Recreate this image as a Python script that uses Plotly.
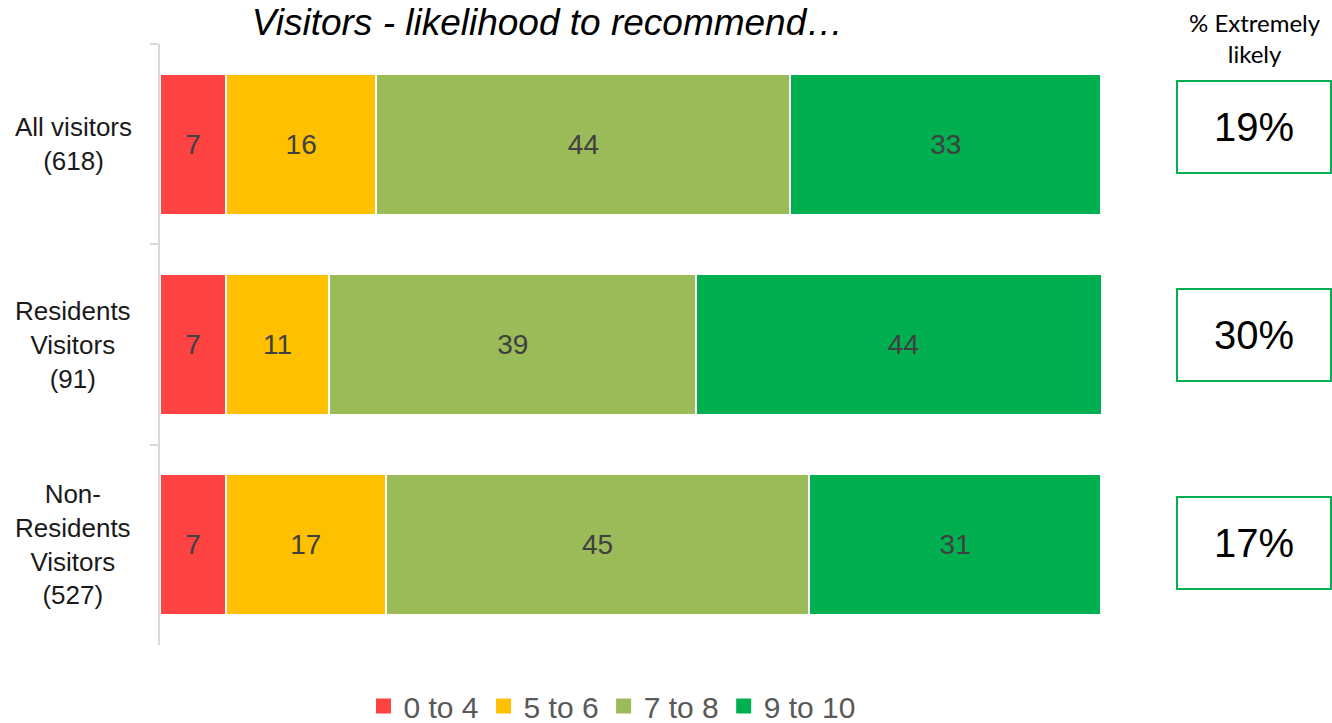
import plotly.graph_objects as go

# Survey groups (top to bottom) and score bands
groups = ["All visitors<br>(618)",
          "Residents<br>Visitors<br>(91)",
          "Non-<br>Residents<br>Visitors<br>(527)"]
bands = ["0 to 4", "5 to 6", "7 to 8", "9 to 10"]

# Share of respondents (%) in each band, per group
band_0_4 = [7, 7, 7]
band_5_6 = [16, 11, 17]
band_7_8 = [44, 39, 45]
band_9_10 = [33, 44, 31]

# % answering "extremely likely" per group
extremely_likely = [19, 30, 17]

colors = ["#FF4343", "#FFC000", "#9BBB59", "#00B050"]
series = [band_0_4, band_5_6, band_7_8, band_9_10]

W, H = 1332, 723
L, R, T, B = 160, 231, 44, 78
PW, PH = W - L - R, H - T - B


def px_x(p):
    return (p - L) / PW


def px_y(p):
    return (H - B - p) / PH


fig = go.Figure()
for name, vals, col in zip(bands, series, colors):
    fig.add_trace(go.Bar(
        y=groups, x=vals, name=name, orientation="h",
        marker=dict(color=col, line=dict(color="white", width=2)),
        width=0.705,
        text=[str(v) for v in vals],
        textposition="inside",
        insidetextanchor="middle",
        textangle=0,
        insidetextfont=dict(family="Arial, Liberation Sans", size=28, color="#404040"),
        hoverinfo="x+name",
        showlegend=False,
    ))

# Legend keys with larger square swatches
for name, col in zip(bands, colors):
    fig.add_trace(go.Scatter(
        x=[None], y=[None], mode="markers", name=name,
        marker=dict(symbol="square", size=15, color=col),
        showlegend=True, hoverinfo="skip",
    ))

annotations = []
# Group labels, centred to the left of the axis
for g in groups:
    annotations.append(dict(
        x=px_x(73), xref="paper", y=g, yref="y", text=g, showarrow=False,
        xanchor="center", yanchor="middle", align="center",
        font=dict(family="Arial, Liberation Sans", size=26, color="#1a1a1a"),
    ))

# Right-hand panel header
annotations.append(dict(
    x=px_x(1255), xref="paper", y=px_y(38), yref="paper",
    text="% Extremely<br>likely", showarrow=False,
    xanchor="center", yanchor="middle", align="center",
    font=dict(family="Lato, Open Sans", size=24, color="#000000"),
))

shapes = []
box_tops = [81, 289, 497]
box_h = 92
for top, val in zip(box_tops, extremely_likely):
    shapes.append(dict(
        type="rect", xref="paper", yref="paper",
        x0=px_x(1177), x1=px_x(1331), y0=px_y(top), y1=px_y(top + box_h),
        line=dict(color="#00B050", width=2), fillcolor="white",
    ))
    annotations.append(dict(
        x=px_x(1254), xref="paper", y=px_y(top + box_h / 2), yref="paper",
        text=f"{val}%", showarrow=False, xanchor="center", yanchor="middle",
        font=dict(family="Arial, Liberation Sans", size=40, color="#000000"),
    ))

fig.update_layout(
    width=W, height=H,
    margin=dict(l=L, r=R, t=T, b=B, pad=0, autoexpand=False),
    barmode="stack",
    plot_bgcolor="white", paper_bgcolor="white",
    title=dict(
        text="Visitors - likelihood to recommend…",
        x=547.5 / W, xanchor="center", y=1 - 22 / H, yanchor="middle",
        font=dict(family="Liberation Sans Narrow, Arial Narrow, Arial", size=37,
                  color="#000000", style="italic"),
    ),
    xaxis=dict(range=[0, 100], visible=False, fixedrange=True),
    yaxis=dict(
        autorange="reversed", showticklabels=False,
        showline=True, linecolor="#D9D9D9", linewidth=2,
        ticks="outside", ticklen=8, tickcolor="#D9D9D9", tickwidth=2,
        tickson="boundaries", showgrid=False, zeroline=False, fixedrange=True,
    ),
    legend=dict(
        orientation="h", xref="container", x=612 / W, xanchor="center",
        yref="container", y=1 - 706 / H, yanchor="middle", traceorder="normal",
        font=dict(family="Arial, Liberation Sans", size=30, color="#595959"),
        itemclick=False, itemdoubleclick=False,
    ),
    annotations=annotations,
    shapes=shapes,
    showlegend=True,
)

fig.write_html("out.html")
